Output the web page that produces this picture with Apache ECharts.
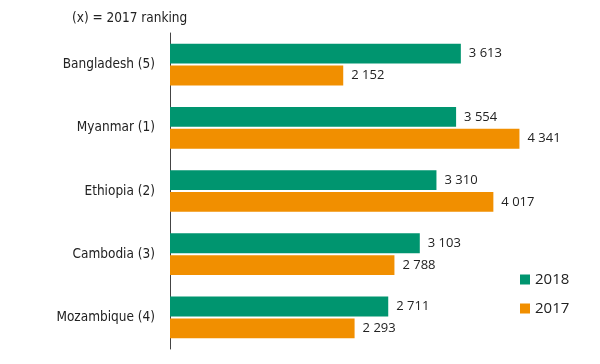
<!DOCTYPE html>
<html><head><meta charset="utf-8">
<script src="https://cdn.jsdelivr.net/npm/echarts@6/dist/echarts.min.js"></script>
<style>html,body{margin:0;padding:0;background:#fff}#c{width:600px;height:364px}</style>
</head><body><div id="c"></div>
<script>
const categories = ['Bangladesh (5)', 'Myanmar (1)', 'Ethiopia (2)', 'Cambodia (3)', 'Mozambique (4)'];
const values2018 = [3613, 3554, 3310, 3103, 2711];
const values2017 = [2152, 4341, 4017, 2788, 2293];
const fmt = v => String(v).replace(/\B(?=(\d{3})+(?!\d))/g, ' ');
const chart = echarts.init(document.getElementById('c'), null, {renderer: 'canvas'});
const narrow = '"DejaVu Sans Condensed", Roboto, sans-serif';
const lbl = {show: true, position: 'right', distance: 8, color: '#222', fontFamily: 'Open Sans', fontSize: 13, formatter: p => fmt(p.value)};
chart.setOption({
  animation: false,
  title: {text: '(x) = 2017 ranking', left: 67, top: 6, textStyle: {fontFamily: narrow, fontSize: 13.5, fontWeight: 'normal', color: '#222'}},
  legend: {orient: 'vertical', left: 515, top: 267, itemWidth: 10, itemHeight: 10, itemGap: 14, icon: 'rect',
    data: ['2018', '2017'], textStyle: {fontFamily: 'Open Sans', fontSize: 15, color: '#222'}},
  grid: {left: 170, right: 27.5, top: 33, bottom: 15},
  xAxis: {type: 'value', min: 0, max: 5000, show: false, splitLine: {show: false}},
  yAxis: {type: 'category', data: categories, inverse: true,
    axisLine: {lineStyle: {color: '#444', width: 1}}, axisTick: {show: false},
    axisLabel: {margin: 15, fontFamily: narrow, fontSize: 13.5, color: '#222'}},
  series: [
    {name: '2018', type: 'bar', data: values2018, itemStyle: {color: '#00956F'}, barGap: '10%', barCategoryGap: '34%', label: lbl},
    {name: '2017', type: 'bar', data: values2017, itemStyle: {color: '#F18F00'}, label: lbl}
  ]
});
</script></body></html>
